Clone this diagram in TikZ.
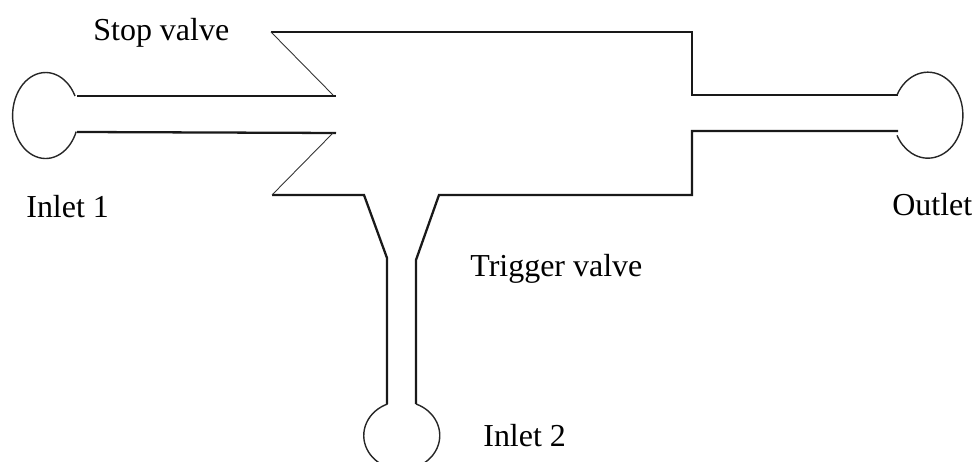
\documentclass[tikz,border=0pt]{standalone}
\usepackage{amsmath,amssymb}
\usepackage{xcolor}
\usepackage{fontspec}
\setmainfont{Liberation Serif}
\tikzset{
    wall/.style={line width=1.3pt, black!90},
    thinwall/.style={line width=0.5pt, black!80},
    bulb/.style={line width=0.8pt, black!85},
    tag/.style={anchor=base west, inner sep=0pt, font=\fontsize{18.2}{22}\selectfont},
}
\begin{document}
\begin{tikzpicture}[x=0.02cm, y=0.02cm]
                \useasboundingbox (0, 0) rectangle (975, 462);
                \clip (0, 0) rectangle (975, 462);

                \draw[wall] (271, 430) -- (692, 430) -- (692, 367) -- (898, 367);
                \draw[wall] (898, 331) -- (692, 331) -- (692, 267) -- (439, 267)
                    -- (416, 202) -- (416, 58);
                \draw[wall] (387, 58) -- (387, 204) -- (364, 267) -- (272, 267);
                \draw[wall] (77, 366) -- (336, 366);
                \draw[wall] (77, 330) -- (336, 329);

                \draw[thinwall] (271, 430) -- (333, 367);
                \draw[thinwall] (272, 267) -- (333, 329);

                \draw[bulb] (75, 366) arc[start angle=27, end angle=338, x radius=33, y radius=43];
                \draw[bulb] (897, 367) arc[start angle=152, end angle=-152, x radius=35, y radius=43];
                \draw[bulb] (416, 58) arc[start angle=68, end angle=-248, x radius=38, y radius=34];

                \node[tag] (stop) at (93, 421) {Stop valve};
                \node[tag] (inleta) at (26, 244) {Inlet 1};
                \node[tag] (outlet) at (892, 246) {Outlet};
                \node[tag] (trigger) at (470, 185) {Trigger valve};
                \node[tag] (inletb) at (483, 15) {Inlet 2};
            \end{tikzpicture}
\end{document}
